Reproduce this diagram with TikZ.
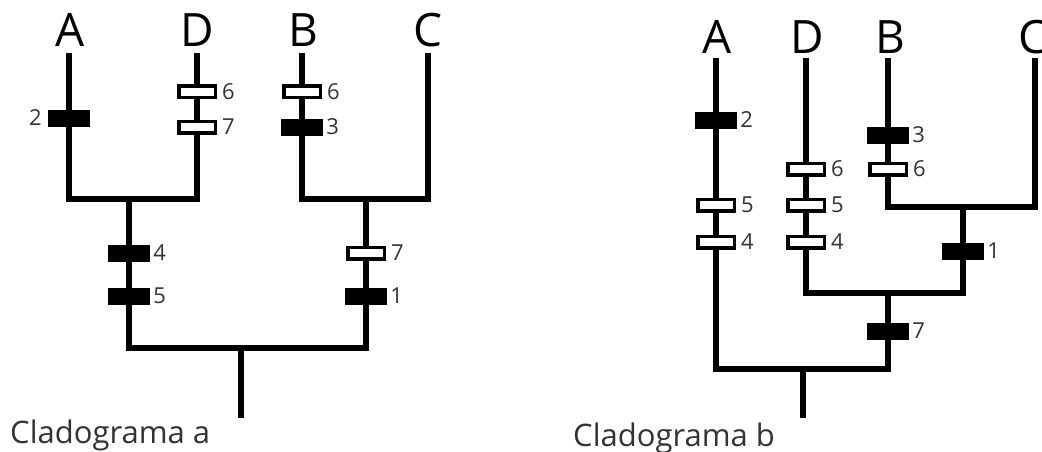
\documentclass[tikz,border=0pt]{standalone}
\usepackage{fontspec}
\setmainfont{Open Sans}
\usetikzlibrary{positioning}
\definecolor{labgray}{HTML}{333333}
\tikzset{
  branch/.style={line width=6.5pt, line join=miter, line cap=butt},
  fmark/.style={fill=black, draw=none, minimum width=42pt, minimum height=17pt, inner sep=0pt},
  omark/.style={fill=white, draw=black, line width=3.5pt, minimum width=36.5pt, minimum height=11.5pt, inner sep=0pt},
  lab/.style={text=labgray, font=\fontsize{22}{22}\selectfont, inner sep=0pt},
  taxon/.style={font=\fontsize{46}{46}\selectfont, inner sep=0pt},
  title/.style={text=labgray, font=\fontsize{31}{31}\selectfont, inner sep=0pt, anchor=base west}
}
\begin{document}
\begin{tikzpicture}[x=1pt,y=-1pt]
\useasboundingbox (0,0) rectangle (1042,452);
\clip (0,0) rectangle (1042,452);
\fill[white] (0,0) rectangle (1042,452);
% ---------------- Cladograma a ----------------
\node[taxon] (aA) at (70,30) {A};
\node[taxon] (aD) at (197,30) {D};
\node[taxon] (aB) at (303,30) {B};
\node[taxon] (aC) at (428,30) {C};
\coordinate (aAt) at (69,53);  \coordinate (aAb) at (69,199);
\coordinate (aDt) at (197,53); \coordinate (aDb) at (197,199);
\coordinate (aBt) at (302,53); \coordinate (aBb) at (302,199);
\coordinate (aCt) at (428,53); \coordinate (aCb) at (428,199);
\coordinate (aAD) at (129,199); \coordinate (aBC) at (366,199);
\coordinate (aL) at (129,348); \coordinate (aR) at (366,348);
\coordinate (aRt) at (241,348); \coordinate (aRb) at (241,418);
\draw[branch] (aAt) -- (aAb) -- (aDb) -- (aDt);
\draw[branch] (aBt) -- (aBb) -- (aCb) -- (aCt);
\draw[branch] (aAD) -- (aL) -- (aR) -- (aBC);
\draw[branch] (aRt) -- (aRb);
% marks
\node[fmark] (a2) at (69,118) {};
\node[lab, left=6pt of a2] (a2l) {2};
\node[omark] (aD6) at (197,92) {};
\node[lab, right=5pt of aD6] (aD6l) {6};
\node[omark] (aD7) at (197,127) {};
\node[lab, right=5pt of aD7] (aD7l) {7};
\node[omark] (aB6) at (302,92) {};
\node[lab, right=5pt of aB6] (aB6l) {6};
\node[fmark] (aB3) at (302,127) {};
\node[lab, right=3pt of aB3] (aB3l) {3};
\node[fmark] (a4) at (129,253) {};
\node[lab, right=3pt of a4] (a4l) {4};
\node[fmark] (a5) at (129,296) {};
\node[lab, right=3pt of a5] (a5l) {5};
\node[omark] (a7) at (366,253) {};
\node[lab, right=5pt of a7] (a7l) {7};
\node[fmark] (a1) at (366,296) {};
\node[lab, right=3pt of a1] (a1l) {1};
\node[title] (ta) at (10,443) {Cladograma a};
% ---------------- Cladograma b ----------------
\node[taxon] (bA) at (717,37) {A};
\node[taxon] (bD) at (807,37) {D};
\node[taxon] (bB) at (890,37) {B};
\node[taxon] (bC) at (1033,37) {C};
\coordinate (bAt) at (716,58);  \coordinate (bAb) at (716,369);
\coordinate (bDt) at (806,58);  \coordinate (bDb) at (806,293);
\coordinate (bBt) at (888,58);  \coordinate (bBb) at (888,207);
\coordinate (bCt) at (1035,58); \coordinate (bCb) at (1035,207);
\coordinate (bBC) at (963,207); \coordinate (bBCb) at (963,293);
\coordinate (bDBC) at (888,293); \coordinate (bDBCb) at (888,369);
\coordinate (bRt) at (803,369); \coordinate (bRb) at (803,418);
\draw[branch] (bBt) -- (bBb) -- (bCb) -- (bCt);
\draw[branch] (bDt) -- (bDb) -- (bBCb) -- (bBC);
\draw[branch] (bAt) -- (bAb) -- (bDBCb) -- (bDBC);
\draw[branch] (bRt) -- (bRb);
% marks
\node[fmark] (b2) at (716,120) {};
\node[lab, right=3pt of b2] (b2l) {2};
\node[omark] (bA5) at (716,205) {};
\node[lab, right=5pt of bA5] (bA5l) {5};
\node[omark] (bA4) at (716,242) {};
\node[lab, right=5pt of bA4] (bA4l) {4};
\node[omark] (bD6) at (806,169) {};
\node[lab, right=5pt of bD6] (bD6l) {6};
\node[omark] (bD5) at (806,205) {};
\node[lab, right=5pt of bD5] (bD5l) {5};
\node[omark] (bD4) at (806,242) {};
\node[lab, right=5pt of bD4] (bD4l) {4};
\node[fmark] (bB3) at (888,135) {};
\node[lab, right=3pt of bB3] (bB3l) {3};
\node[omark] (bB6) at (888,169) {};
\node[lab, right=5pt of bB6] (bB6l) {6};
\node[fmark] (b1) at (963,251) {};
\node[lab, right=3pt of b1] (b1l) {1};
\node[fmark] (b7) at (888,331) {};
\node[lab, right=3pt of b7] (b7l) {7};
\node[title] (tb) at (573,446) {Cladograma b};
\end{tikzpicture}
\end{document}
